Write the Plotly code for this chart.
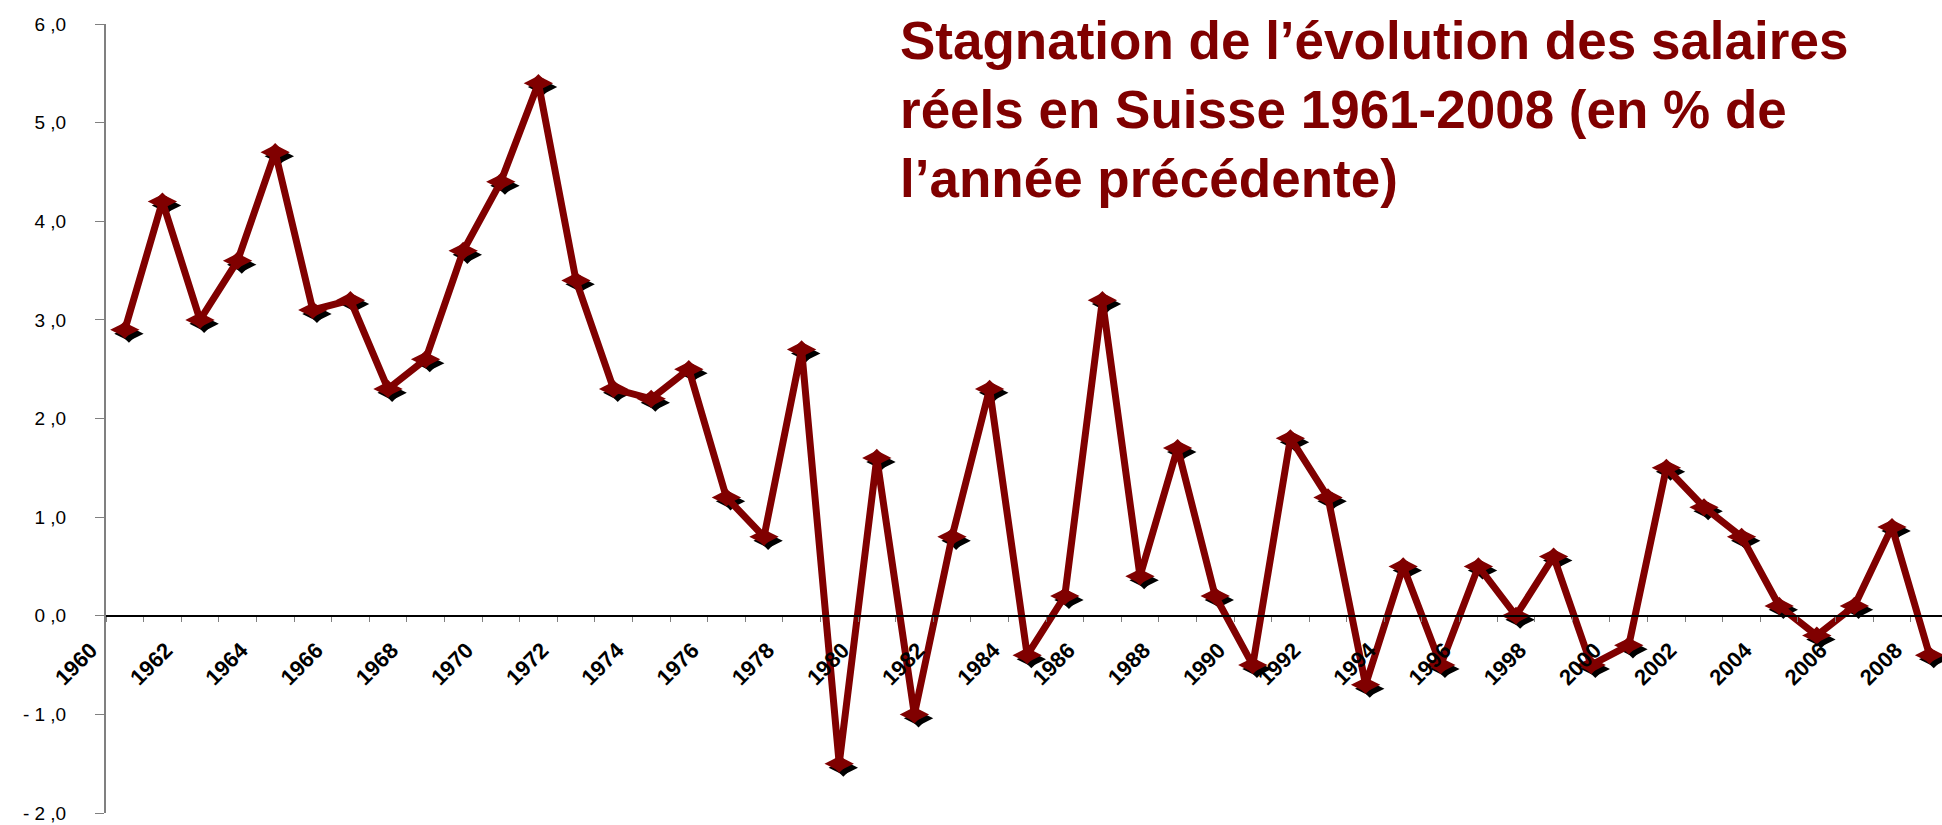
import plotly.graph_objects as go

# ---- data ----
years = list(range(1961, 2010))
growth = [2.9, 4.2, 3.0, 3.6, 4.7, 3.1, 3.2, 2.3, 2.6, 3.7,
          4.4, 5.4, 3.4, 2.3, 2.2, 2.5, 1.2, 0.8, 2.7, -1.5,
          1.6, -1.0, 0.8, 2.3, -0.4, 0.2, 3.2, 0.4, 1.7, 0.2,
          -0.5, 1.8, 1.2, -0.7, 0.5, -0.5, 0.5, 0.0, 0.6, -0.5,
          -0.3, 1.5, 1.1, 0.8, 0.1, -0.2, 0.1, 0.9, -0.4]
x_tick_years = list(range(1960, 2009, 2))
x_tick_text = [str(y) for y in x_tick_years]
y_tick_vals = [-2, -1, 0, 1, 2, 3, 4, 5, 6]
y_tick_text = ["- 2 ,0", "- 1 ,0", "0 ,0", "1 ,0", "2 ,0", "3 ,0", "4 ,0", "5 ,0", "6 ,0"]
title_lines = ["Stagnation de l\u2019évolution des salaires",
               "réels en Suisse 1961-2008 (en % de",
               "l\u2019année précédente)"]

MAROON = "#800000"
GREY = "#808080"

# each yearly value sits in the middle of its year interval
xpos = [y - 0.5 for y in years]
# drop-shadow of the markers, a few pixels down-right
shadow_x = [x + 0.11 for x in xpos]
shadow_y = [v - 0.04 for v in growth]

MARKERS = (("diamond-wide", 21), ("diamond", 14))

fig = go.Figure()
for sym, sz in MARKERS:
    fig.add_trace(go.Scatter(
        x=shadow_x, y=shadow_y, mode="markers",
        marker=dict(symbol=sym, size=sz, color="black", line=dict(width=0)),
        hoverinfo="skip", cliponaxis=False, showlegend=False))
fig.add_trace(go.Scatter(
    x=xpos, y=growth, mode="lines+markers",
    line=dict(color=MAROON, width=7),
    marker=dict(symbol=MARKERS[0][0], size=MARKERS[0][1], color=MAROON, line=dict(width=0)),
    cliponaxis=False, showlegend=False))
fig.add_trace(go.Scatter(
    x=xpos, y=growth, mode="markers",
    marker=dict(symbol=MARKERS[1][0], size=MARKERS[1][1], color=MAROON, line=dict(width=0)),
    hoverinfo="skip", cliponaxis=False, showlegend=False))

fig.update_layout(
    width=1942, height=825,
    margin=dict(l=106, r=0, t=24, b=12, pad=0),
    paper_bgcolor="white", plot_bgcolor="white",
    font=dict(family="Liberation Sans, Arial, sans-serif", color="black"),
    xaxis=dict(
        range=[1960, 2008.83], anchor="free", position=0.25,
        showline=True, linecolor="black", linewidth=2,
        showgrid=False, zeroline=False,
        tickmode="array", tickvals=x_tick_years, ticktext=x_tick_text,
        ticks="outside", ticklen=5, tickcolor=GREY, tickwidth=1,
        tickangle=-45,
        tickfont=dict(size=22, weight="bold", color="black"),
        ticklabelshift=-15, ticklabelstandoff=7,
        minor=dict(ticks="outside", ticklen=5, tickcolor=GREY, tickwidth=1,
                   tick0=1960, dtick=1, showgrid=False),
    ),
    yaxis=dict(
        range=[-2, 6], showline=True, linecolor=GREY, linewidth=2,
        showgrid=False, zeroline=False,
        tickmode="array", tickvals=y_tick_vals, ticktext=y_tick_text,
        ticks="outside", ticklen=9, tickcolor=GREY, tickwidth=1,
        tickfont=dict(size=19, color="black"),
        ticklabelstandoff=25,
    ),
    annotations=[dict(
        text="<br>".join(title_lines), xref="paper", yref="paper",
        x=0.4314, y=1.019, xanchor="left", yanchor="top", align="left",
        showarrow=False,
        font=dict(size=53, weight="bold", color=MAROON,
                  family="Liberation Sans, Arial, sans-serif"),
    )],
)

fig.write_html("out.html", config={"displayModeBar": False},
               post_script="document.body.style.margin='0';document.body.style.overflow='hidden';")
